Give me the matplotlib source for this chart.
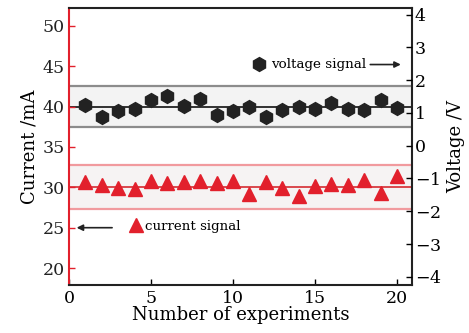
import matplotlib
matplotlib.use("Agg")
import matplotlib.pyplot as plt
import numpy as np

plt.rcParams['font.family'] = ['DejaVu Serif']
plt.rcParams['mathtext.fontset'] = 'dejavuserif'

experiments = list(range(1, 21))
voltage_signal = [40.25, 38.7, 39.4, 39.67, 40.87, 41.36, 40.04, 40.95, 38.97, 39.42,
                  39.9, 38.7, 39.6, 39.9, 39.67, 40.45, 39.67, 39.6, 40.87, 39.84]
current_signal = [30.67, 30.25, 29.96, 29.84, 30.79, 30.5, 30.67, 30.79, 30.54, 30.79,
                  29.22, 30.7, 29.96, 28.9, 30.17, 30.37, 30.29, 30.87, 29.3, 31.4]
voltage_band = (37.5, 40.0, 42.5)
current_band = (27.3, 30.05, 32.8)
left_ticks = [20, 25, 30, 35, 40, 45, 50]
right_ticks = [-4, -3, -2, -1, 0, 1, 2, 3, 4]
x_ticks = [0, 5, 10, 15, 20]

red = '#e2202c'
fig = plt.figure(figsize=(4.69, 3.33), dpi=100)
ax = fig.add_axes([0.147, 0.144, 0.731, 0.832])

xmin, xmax = 0, 20.9
# bands
ax.axhspan(voltage_band[0], voltage_band[2], facecolor='#f3f3f3', edgecolor='none', zorder=0)
ax.axhspan(current_band[0], current_band[2], facecolor='#f6f3f3', edgecolor='none', zorder=0)
for v in (voltage_band[0], voltage_band[2]):
    ax.axhline(v, color='#8c8c8c', lw=1.6, zorder=1)
ax.axhline(voltage_band[1], color='#222222', lw=1.3, zorder=1)
for v in (current_band[0], current_band[2]):
    ax.axhline(v, color='#f19a9e', lw=1.6, zorder=1)
ax.axhline(current_band[1], color='#d83a40', lw=1.3, zorder=1)

ax.plot(experiments, voltage_signal, linestyle='none', marker='h', markersize=10,
        color='#222222', zorder=3)
ax.plot(experiments, current_signal, linestyle='none', marker='^', markersize=9.5,
        color=red, zorder=3)

ax.set_xlim(xmin, xmax)
ax.set_ylim(17.9, 52.2)
ax.set_xticks(x_ticks)
ax.set_yticks(left_ticks)
ax.tick_params(axis='both', direction='in', labelsize=12.5, length=4, width=1)
ax.tick_params(axis='y', colors=red, labelcolor='#222222', pad=3)
ax.spines['left'].set_color(red)
ax.spines['left'].set_linewidth(1.5)
for s in ('top', 'bottom', 'right'):
    ax.spines[s].set_linewidth(1.5)
    ax.spines[s].set_color('#222222')
ax.set_xlabel('Number of experiments', fontsize=13, labelpad=-1)
ax.set_ylabel('Current /mA', fontsize=13, labelpad=3)

ax2 = ax.twinx()
ax2.set_ylim(-4.25, 4.2)
ax2.set_yticks(right_ticks)
ax2.set_yticklabels([f'$-${abs(t)}' if t < 0 else str(t) for t in right_ticks])
ax2.tick_params(axis='y', direction='in', labelsize=12.5, length=4, width=1, pad=2)
for s in ax2.spines.values():
    s.set_visible(False)
ax2.set_ylabel('Voltage /V', fontsize=13, labelpad=4)

# legend annotations
ax.plot([11.58], [45.25], marker='h', markersize=10, color='#222222', linestyle='none')
ax.text(12.3, 45.25, 'voltage signal', fontsize=9.7, va='center', ha='left')
ax.annotate('', xy=(20.4, 45.2), xytext=(18.2, 45.2),
            arrowprops=dict(arrowstyle='-|>', color='#222222', lw=1.2, mutation_scale=9))
ax.plot([4.08], [25.3], marker='^', markersize=9.5, color=red, linestyle='none')
ax.text(4.65, 25.2, 'current signal', fontsize=9.6, va='center', ha='left')
ax.annotate('', xy=(0.3, 25.0), xytext=(2.8, 25.0),
            arrowprops=dict(arrowstyle='-|>', color='#222222', lw=1.2, mutation_scale=9))

fig.savefig('out.png', dpi=100)
